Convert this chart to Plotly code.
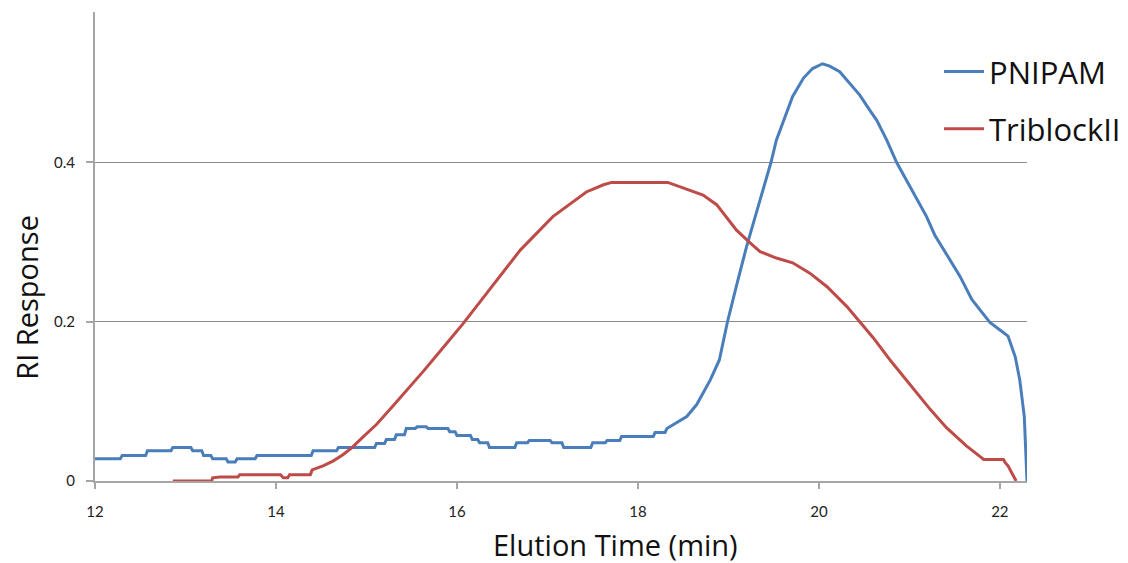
import plotly.graph_objects as go

# Elution time (min) and refractive-index response for each sample
time_pnipam = [12.0, 12.28, 12.3, 12.56, 12.58, 12.84, 12.86, 13.06, 13.08, 13.18, 13.2, 13.28, 13.3,
               13.45, 13.47, 13.55, 13.57, 13.77, 13.79, 14.39, 14.41, 14.67, 14.69, 15.09, 15.11,
               15.2, 15.22, 15.31, 15.33, 15.42, 15.44, 15.54, 15.56, 15.66, 15.68, 15.9, 15.92,
               15.98, 16.0, 16.15, 16.17, 16.23, 16.25, 16.34, 16.36, 16.64, 16.66, 16.78, 16.8,
               17.03, 17.05, 17.16, 17.18, 17.48, 17.5, 17.64, 17.66, 17.8, 17.82, 18.17, 18.19,
               18.3, 18.32, 18.39, 18.54, 18.65, 18.72, 18.8, 18.9, 18.99, 19.1, 19.2, 19.35,
               19.47, 19.53, 19.65, 19.71, 19.83, 19.93, 20.04, 20.12, 20.23, 20.38, 20.45,
               20.56, 20.64, 20.75, 20.86, 21.0, 21.12, 21.19, 21.28, 21.45, 21.56, 21.69, 21.78,
               21.89, 22.02, 22.09, 22.17, 22.22, 22.27, 22.3]
ri_pnipam = [0.028, 0.028, 0.032, 0.032, 0.038, 0.038, 0.042, 0.042, 0.038, 0.038, 0.032, 0.032, 0.028,
             0.028, 0.024, 0.024, 0.028, 0.028, 0.032, 0.032, 0.038, 0.038, 0.042, 0.042, 0.047,
             0.047, 0.052, 0.052, 0.058, 0.058, 0.066, 0.066, 0.068, 0.068, 0.066, 0.066, 0.062,
             0.062, 0.057, 0.057, 0.052, 0.052, 0.048, 0.048, 0.042, 0.042, 0.048, 0.048, 0.051,
             0.051, 0.048, 0.048, 0.042, 0.042, 0.048, 0.048, 0.051, 0.051, 0.056, 0.056, 0.061,
             0.061, 0.066, 0.071, 0.081, 0.096, 0.111, 0.127, 0.152, 0.2, 0.25, 0.294, 0.353,
             0.4, 0.428, 0.466, 0.483, 0.506, 0.518, 0.524, 0.521, 0.514, 0.495, 0.485,
             0.466, 0.453, 0.428, 0.4, 0.371, 0.346, 0.332, 0.309, 0.278, 0.257, 0.228, 0.215,
             0.199, 0.188, 0.182, 0.156, 0.127, 0.081, 0.0]

time_triblock = [12.86, 13.29, 13.3, 13.38, 13.58, 13.6, 14.05, 14.08, 14.13, 14.15, 14.38, 14.4,
                 14.52, 14.63, 14.74, 14.84, 14.96, 15.11, 15.29, 15.48, 15.63, 15.8, 15.96,
                 16.07, 16.33, 16.7, 17.06, 17.43, 17.62, 17.71, 18.33, 18.5, 18.72, 18.87,
                 19.09, 19.24, 19.35, 19.53, 19.71, 19.9, 20.09, 20.31, 20.49, 20.6, 20.8, 20.97,
                 21.23, 21.41, 21.63, 21.8, 21.82, 22.04, 22.06, 22.09, 22.18]
ri_triblock = [0.0, 0.0, 0.004, 0.005, 0.005, 0.008, 0.008, 0.004, 0.004, 0.008, 0.008, 0.014,
               0.019, 0.025, 0.033, 0.042, 0.055, 0.071, 0.094, 0.118, 0.138, 0.161, 0.183,
               0.198, 0.236, 0.29, 0.332, 0.363, 0.372, 0.375, 0.375, 0.368, 0.359, 0.347,
               0.315, 0.299, 0.288, 0.28, 0.274, 0.261, 0.244, 0.219, 0.194, 0.18, 0.15, 0.126,
               0.09, 0.067, 0.044, 0.029, 0.027, 0.027, 0.023, 0.019, 0.0]

y_tick_vals = [0, 0.2, 0.4]
y_tick_text = ["0", "0.2", "0.4"]
x_tick_vals = [12, 14, 16, 18, 20, 22]

TICK_FONT = "Lato"
LABEL_FONT = "Open Sans"

fig = go.Figure()
fig.add_trace(go.Scatter(x=time_pnipam, y=ri_pnipam, mode="lines", name="PNIPAM",
                         legendgroup="a", line=dict(color="#4A7EBB", width=3)))
fig.add_trace(go.Scatter(x=time_triblock, y=ri_triblock, mode="lines", name="TriblockII",
                         legendgroup="b", line=dict(color="#BE4B48", width=3)))

fig.update_layout(
    width=1128, height=563,
    margin=dict(l=95, r=101, t=12, b=81.5, autoexpand=False),
    paper_bgcolor="white", plot_bgcolor="white",
    font=dict(family=TICK_FONT, color="#222"),
    showlegend=True,
    legend=dict(x=0.9056, y=0.93, xanchor="left", yanchor="top",
                font=dict(family=LABEL_FONT, size=31, color="#111"),
                bgcolor="rgba(0,0,0,0)", tracegroupgap=14, itemwidth=40,
                traceorder="grouped"),
    xaxis=dict(range=[12, 22.3], tickvals=x_tick_vals, showgrid=False, zeroline=False,
               showline=True, linecolor="#a6a6a6", linewidth=2,
               ticks="outside", ticklen=6, tickcolor="#a6a6a6", tickwidth=1.5,
               tickfont=dict(size=15, color="#222"), ticklabelstandoff=10),
    yaxis=dict(range=[0, 0.589], tickvals=y_tick_vals, ticktext=y_tick_text,
               showgrid=True, gridcolor="#8c8c8c", gridwidth=1.2, zeroline=False,
               showline=True, linecolor="#a6a6a6", linewidth=2,
               ticks="outside", ticklen=7, tickcolor="#a6a6a6", tickwidth=1.5,
               tickfont=dict(size=15, color="#222"), ticklabelstandoff=8),
    annotations=[
        dict(text="Elution Time (min)", x=(615 - 95) / 932, y=-(545 - 481.5) / 469.5,
             xref="paper", yref="paper", showarrow=False, xanchor="center", yanchor="middle",
             font=dict(family=LABEL_FONT, size=29, color="#111")),
        dict(text="RI Response", x=-(95 - 27) / 932, y=(481.5 - 298) / 469.5,
             xref="paper", yref="paper", showarrow=False, xanchor="center", yanchor="middle",
             textangle=-90, font=dict(family=LABEL_FONT, size=29, color="#111")),
    ],
)

fig.write_html("out.html")
